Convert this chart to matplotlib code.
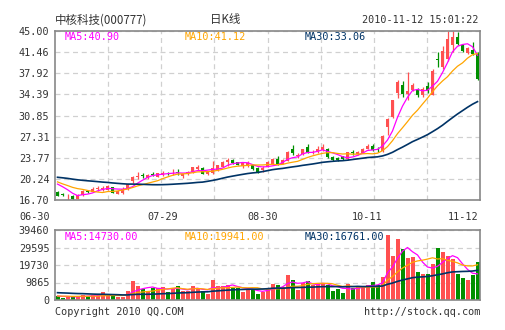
import numpy as np
import matplotlib
matplotlib.use("Agg")
import matplotlib.pyplot as plt

plt.rcParams['font.family'] = ['DejaVu Sans Mono']

RED = '#ff5050'
GREEN = '#009000'
MA_COLORS = ['#ff00ff', '#ffa500', '#003366']

# daily K line 06-30 .. 11-12
open_ = [18.10, 17.70, 17.50, 17.45, 16.95, 17.55, 18.20, 18.10, 18.50, 18.55,
         18.40, 18.80, 17.75, 17.80, 18.50, 19.90, 20.60, 20.90, 20.40, 21.00,
         20.60, 20.90, 21.30, 21.15, 21.40, 20.80, 21.00, 21.40, 21.90, 22.00,
         21.00, 21.20, 21.70, 22.30, 23.00, 23.40, 23.00, 22.40, 22.60, 22.50,
         22.10, 21.70, 22.30, 22.80, 23.60, 22.80, 23.30, 25.20, 24.00, 24.40,
         25.50, 24.50, 24.70, 25.00, 25.30, 23.90, 23.80, 24.00, 23.50, 24.80,
         24.40, 24.60, 25.30, 25.80, 25.30, 24.90, 28.90, 30.60, 34.60, 36.00,
         34.40, 35.20, 35.10, 34.30, 35.80, 34.30, 40.30, 39.00, 40.30, 42.70,
         44.00, 42.60, 41.30, 41.80, 41.20]
high = [18.25, 17.95, 17.75, 17.55, 17.70, 18.30, 18.35, 18.90, 19.00, 19.10,
        19.15, 18.90, 18.45, 18.90, 19.45, 20.70, 21.40, 21.20, 21.05, 21.40,
        21.30, 21.50, 21.45, 21.90, 21.90, 21.10, 21.50, 22.30, 22.60, 22.20,
        21.60, 23.20, 22.60, 23.20, 23.70, 23.50, 23.10, 23.10, 23.20, 22.60,
        22.20, 22.40, 23.20, 23.80, 24.00, 23.50, 24.90, 25.90, 24.50, 25.30,
        26.00, 25.00, 25.70, 26.00, 25.40, 24.00, 23.90, 24.10, 24.80, 25.00,
        24.90, 25.40, 26.10, 26.10, 25.50, 27.60, 30.40, 33.50, 36.80, 36.60,
        38.20, 36.30, 35.40, 35.60, 36.50, 38.60, 41.50, 42.50, 45.00, 45.00,
        44.90, 42.90, 42.40, 43.20, 41.40]
low = [17.35, 17.45, 16.70, 16.75, 16.80, 17.45, 17.95, 18.00, 18.20, 18.25,
       18.30, 17.80, 17.65, 17.70, 18.40, 19.60, 20.30, 20.40, 20.30, 20.70,
       20.50, 20.70, 20.90, 20.90, 20.95, 20.40, 20.90, 21.30, 21.80, 21.00,
       20.90, 21.00, 21.60, 22.20, 22.40, 22.80, 22.50, 22.10, 22.20, 21.80,
       21.30, 21.40, 22.20, 22.70, 22.50, 22.70, 23.20, 24.30, 23.80, 24.30,
       24.50, 24.40, 24.60, 24.90, 23.80, 23.30, 23.20, 23.40, 23.40, 24.30,
       24.30, 24.50, 25.20, 24.90, 24.80, 24.80, 27.60, 30.50, 33.70, 33.90,
       33.50, 34.90, 34.00, 33.90, 34.70, 34.20, 39.00, 38.70, 40.00, 41.50,
       42.60, 41.40, 41.20, 41.00, 36.80]
close = [17.45, 17.60, 17.60, 16.95, 17.60, 18.20, 18.05, 18.60, 18.70, 18.75,
         19.05, 17.90, 18.25, 18.60, 19.30, 20.60, 20.80, 20.75, 20.95, 20.90,
         21.20, 21.30, 21.20, 21.30, 21.25, 21.00, 21.40, 22.20, 22.30, 21.10,
         21.50, 22.00, 22.50, 23.10, 23.40, 22.90, 22.60, 22.90, 22.90, 21.90,
         21.40, 22.10, 23.10, 23.60, 22.70, 23.40, 24.70, 24.50, 24.30, 25.20,
         24.60, 24.80, 25.30, 25.60, 23.90, 23.40, 23.40, 23.50, 24.70, 24.50,
         24.70, 25.30, 25.80, 25.10, 25.00, 27.50, 30.30, 33.40, 36.50, 34.40,
         34.90, 36.00, 34.30, 35.30, 34.90, 38.30, 40.10, 41.60, 43.60, 44.00,
         42.90, 41.60, 42.20, 41.10, 36.90]
volume = [2000, 1400, 1900, 1700, 2300, 2800, 2100, 2800, 2300, 4500,
          2300, 2600, 1900, 1900, 5100, 10800, 7900, 6000, 4900, 7000,
          7000, 7400, 4500, 6000, 7900, 5100, 5100, 7900, 7000, 5100,
          3600, 11300, 7900, 7900, 8300, 7000, 7000, 4500, 6000, 6000,
          3200, 4700, 7000, 9300, 8500, 7400, 14200, 11300, 5700, 9500,
          10800, 8300, 8900, 9500, 8300, 5000, 6000, 4200, 8900, 6500,
          7500, 8000, 8500, 10300, 8200, 13200, 36500, 25000, 34500, 28500,
          23500, 24500, 16000, 14500, 14500, 20500, 29500, 27000, 25000, 23000,
          14800, 12300, 11200, 14200, 21200]

# closes / volumes before 06-30, only used to start the moving averages
pre_close = [20.2, 20.5, 20.8, 21.0, 20.7, 20.4, 20.6, 20.9, 21.1, 20.8,
             20.5, 20.3, 20.6, 20.9, 20.7, 21.2, 21.6, 21.9, 21.7, 21.4,
             20.9, 20.4, 20.0, 19.7, 19.5, 19.8, 20.1, 19.9, 19.6]
pre_volume = [5200, 4800, 6100, 5500, 4300, 5900, 6400, 5000, 4700, 5300,
              4900, 4400, 5600, 5100, 4600, 4200, 4800, 5300, 4500, 4100,
              2600, 2200, 2500, 2100, 2400, 2300, 2000, 2500, 2200]

date_labels = ['06-30', '07-29', '08-30', '10-11', '11-12']
date_index = [0, 21, 41, 62, 84]
price_ticks = [16.70, 20.24, 23.77, 27.31, 30.85, 34.39, 37.92, 41.46, 45.00]
price_tick_labels = ['16.70', '20.24', '23.77', '27.31', '30.85', '34.39', '37.92', '41.46', '45.00']
vol_ticks = [0, 9865, 19730, 29595, 39460]
ma_periods = [5, 10, 30]
ma_price_text = ['MA5:40.90', 'MA10:41.12', 'MA30:33.06']
ma_vol_text = ['MA5:14730.00', 'MA10:19941.00', 'MA30:16761.00']


def moving_avg(pre, vals, n):
    s = np.array(pre + vals, dtype=float)
    m = np.convolve(s, np.ones(n) / n, mode='valid')
    return m[-len(vals):]


W, H = 505, 330
fig = plt.figure(figsize=(W / 100, H / 100), dpi=100)
fig.patch.set_facecolor('white')


def px_axes(x0, y0, x1, y1):
    return fig.add_axes([x0 / W, 1 - y1 / H, (x1 - x0) / W, (y1 - y0) / H])


ax1 = px_axes(55, 31, 480, 200)
ax2 = px_axes(55, 230, 480, 300)

n = len(close)
x = np.arange(n)
o = np.array(open_)
c = np.array(close)
up = c >= o
colors = np.where(up, RED, GREEN)

# candles
ax1.vlines(x, low, high, colors=colors, lw=0.9, zorder=2)
body_bottom = np.minimum(o, c)
body_h = np.maximum(np.abs(c - o), 0.06)
ax1.bar(x, body_h, 0.75, bottom=body_bottom, color=colors, lw=0, zorder=3)
for p, col in zip(ma_periods, MA_COLORS):
    ax1.plot(x, moving_avg(pre_close, close, p), color=col,
             lw=1.2 if p == 30 else 0.9, zorder=4)

# volume
ax2.bar(x, volume, 0.8, color=colors, lw=0, zorder=2)
for p, col in zip(ma_periods, MA_COLORS):
    ax2.plot(x, moving_avg(pre_volume, volume, p), color=col,
             lw=1.2 if p == 30 else 0.9, zorder=4)

grid_x = [-0.5 + n / 8 * k for k in range(1, 8)]
for ax, ticks, lims in [(ax1, price_ticks, (16.70, 45.00)), (ax2, vol_ticks, (0, 39460))]:
    ax.set_xlim(-0.5, n - 0.5)
    ax.set_ylim(*lims)
    ax.set_xticks(grid_x)
    ax.set_xticklabels([])
    ax.set_yticks(ticks)
    ax.grid(True, color='#d0d0d0', ls=(0, (4, 3)), lw=0.9, zorder=0)
    ax.set_axisbelow(True)
    ax.tick_params(length=0, labelsize=7.3, colors='#333333', pad=4)
    for sp in ax.spines.values():
        sp.set_color('#888888')
        sp.set_linewidth(1.2)

ax1.set_yticklabels(price_tick_labels)
ax2.set_yticklabels([str(v) for v in vol_ticks])

for lab, idx in zip(date_labels, date_index):
    ha = 'center'
    xpos = idx
    if idx == date_index[0]:
        ha, xpos = 'right', idx - 1.5
    elif idx == date_index[-1]:
        ha, xpos = 'right', idx + 0.2
    ax1.annotate(lab, xy=(xpos, 0), xycoords=('data', 'axes fraction'),
                 xytext=(0, -12), textcoords='offset points',
                 ha=ha, va='center', fontsize=7.3, color='#333333')

cjk = ['Noto Sans CJK SC', 'DejaVu Sans Mono']
fig.text(55 / W, 1 - 20 / H, '中核科技(000777)', family=cjk, fontsize=8.3,
         va='center', ha='left', color='#333333')
fig.text(225 / W, 1 - 20 / H, '日K线', family=cjk, fontsize=8.3,
         va='center', ha='center', color='#333333')
fig.text(478 / W, 1 - 20 / H, '2010-11-12 15:01:22', fontsize=7.3,
         va='center', ha='right', color='#333333')

for txt, col, xp in zip(ma_price_text, MA_COLORS, [65, 185, 305]):
    fig.text(xp / W, 1 - 37 / H, txt, color=col, fontsize=7.3, va='center', ha='left')
for txt, col, xp in zip(ma_vol_text, MA_COLORS, [65, 185, 305]):
    fig.text(xp / W, 1 - 237 / H, txt, color=col, fontsize=7.3, va='center', ha='left')

fig.text(55 / W, 1 - 312 / H, 'Copyright 2010 QQ.COM', fontsize=7.3,
         va='center', ha='left', color='#333333')
fig.text(480 / W, 1 - 312 / H, 'http://stock.qq.com', fontsize=7.3,
         va='center', ha='right', color='#333333')

fig.savefig('out.png', dpi=100)
